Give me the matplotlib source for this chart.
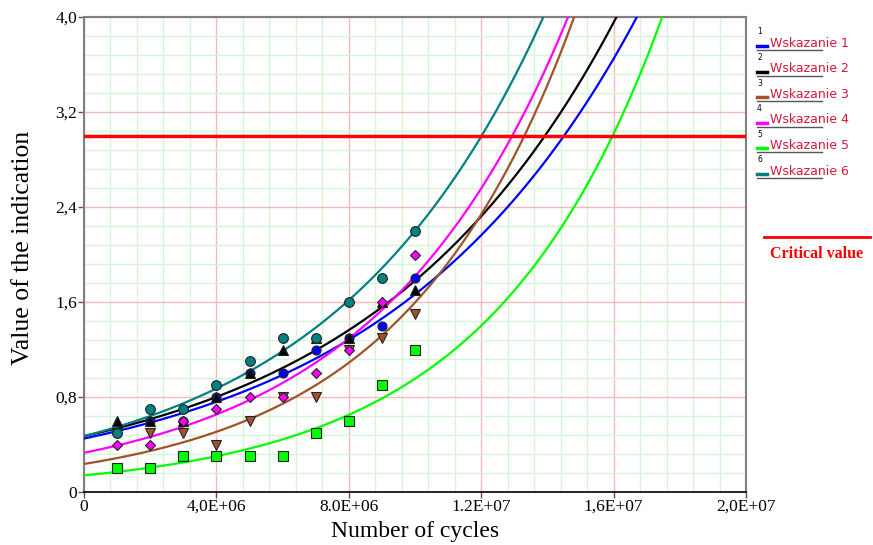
import numpy as np
import matplotlib
matplotlib.use("Agg")
import matplotlib.pyplot as plt
from matplotlib.lines import Line2D
from matplotlib.ticker import MultipleLocator, FixedLocator

# ---- data ----
cycles = [1e6, 2e6, 3e6, 4e6, 5e6, 6e6, 7e6, 8e6, 9e6, 10e6]
series_names = ["Wskazanie 1", "Wskazanie 2", "Wskazanie 3",
                "Wskazanie 4", "Wskazanie 5", "Wskazanie 6"]
w1 = [0.5, 0.6, 0.6, 0.8, 1.0, 1.0, 1.2, 1.3, 1.4, 1.8]
w2 = [0.6, 0.6, 0.6, 0.8, 1.0, 1.2, 1.3, 1.3, 1.6, 1.7]
w3 = [0.5, 0.5, 0.5, 0.4, 0.6, 0.8, 0.8, 1.2, 1.3, 1.5]
w4 = [0.4, 0.4, 0.6, 0.7, 0.8, 0.8, 1.0, 1.2, 1.6, 2.0]
w5 = [0.2, 0.2, 0.3, 0.3, 0.3, 0.3, 0.5, 0.6, 0.9, 1.2]
w6 = [0.5, 0.7, 0.7, 0.9, 1.1, 1.3, 1.3, 1.6, 1.8, 2.2]
# exponential trend lines y = a * exp(b * x[1e6])
fit_a = [0.45, 0.47, 0.236, 0.33, 0.14, 0.47]
fit_b = [0.1308, 0.1331, 0.1911, 0.1706, 0.1919, 0.1543]
critical_value = 3.0
x_ticks = [0, 4e6, 8e6, 1.2e7, 1.6e7, 2e7]
x_tick_labels = ["0", "4,0E+06", "8.0E+06", "1.2E+07", "1,6E+07", "2,0E+07"]
y_ticks = [0, 0.8, 1.6, 2.4, 3.2, 4.0]
y_tick_labels = ["0", "0,8", "1,6", "2,4", "3,2", "4,0"]

values = [w1, w2, w3, w4, w5, w6]
colors = ["#0000FF", "#000000", "#A0522D", "#FF00FF", "#00FF00", "#008080"]
markers = ["o", "^", "v", "D", "s", "o"]
msizes = [6.5, 6.5, 6.5, 5, 6.5, 7]

W, H = 873, 545
fig = plt.figure(figsize=(W / 100, H / 100), dpi=100)
ax = fig.add_axes([84 / W, 1 - 492 / H, (746 - 84) / W, (492 - 17) / H])

ax.set_xlim(0, 2e7)
ax.set_ylim(0, 4.0)

ax.xaxis.set_major_locator(FixedLocator(x_ticks))
ax.yaxis.set_major_locator(FixedLocator(y_ticks))
ax.set_xticklabels(x_tick_labels)
ax.set_yticklabels(y_tick_labels)
ax.xaxis.set_minor_locator(MultipleLocator(8e5))
ax.yaxis.set_minor_locator(MultipleLocator(0.16))
ax.grid(which="minor", color="#D4F6D4", lw=1.0, zorder=0)
ax.grid(which="major", color="#F6B8B8", lw=1.0, zorder=0)
ax.set_axisbelow(True)
ax.tick_params(which="minor", length=0)
ax.tick_params(which="major", length=4, width=1, color="#555555",
               labelsize=12.5, pad=1)
for lab in ax.get_xticklabels() + ax.get_yticklabels():
    lab.set_fontfamily("Liberation Serif")

for s in ["left", "top", "right"]:
    ax.spines[s].set_color("#808080")
    ax.spines[s].set_linewidth(1.5)
ax.spines["bottom"].set_color("#000000")
ax.spines["bottom"].set_linewidth(1.2)

xs = np.linspace(0, 2e7, 800)
for a, b, c in zip(fit_a, fit_b, colors):
    ys = a * np.exp(b * xs / 1e6)
    ax.plot(xs, ys, color=c, lw=1.6, zorder=3, clip_on=True)

for v, c, m, ms in zip(values, colors, markers, msizes):
    ax.plot(cycles, v, linestyle="none", marker=m, markersize=ms,
            markerfacecolor=c, markeredgecolor="#222222",
            markeredgewidth=0.8, zorder=5)

ax.axhline(critical_value, color="#FF0000", lw=2.5, zorder=4)

ax.set_xlabel("Number of cycles", fontsize=17, family="Liberation Serif",
              labelpad=4)
ax.set_ylabel("Value of the indication", fontsize=18.5,
              family="Liberation Serif")
ax.yaxis.set_label_coords(-0.076, 0.513)

# ---- legend (drawn manually) ----
def fx(px):
    return px / W

def fy(py):
    return 1 - py / H

for i, (name, c) in enumerate(zip(series_names, colors)):
    yc = 43 + i * 25.6
    fig.text(fx(757), fy(yc - 11), str(i + 1), fontsize=5.5,
             family="DejaVu Sans", ha="left", va="center")
    fig.add_artist(Line2D([fx(757), fx(767)], [fy(yc + 3), fy(yc + 3)],
                          color=c, lw=2.5))
    fig.text(fx(770), fy(yc), name, fontsize=9, color="#DC143C",
             family="DejaVu Sans", ha="left", va="center")
    fig.add_artist(Line2D([fx(757), fx(822)], [fy(yc + 7), fy(yc + 7)],
                          color="#555555", lw=1.0))

fig.add_artist(Line2D([fx(764), fx(870)], [fy(237), fy(237)],
                      color="#FF0000", lw=2))
fig.text(fx(817), fy(254), "Critical value", fontsize=11.5,
         fontweight="bold", color="#FF0000", family="Liberation Serif",
         ha="center", va="center")

fig.savefig("out.png", dpi=100)
